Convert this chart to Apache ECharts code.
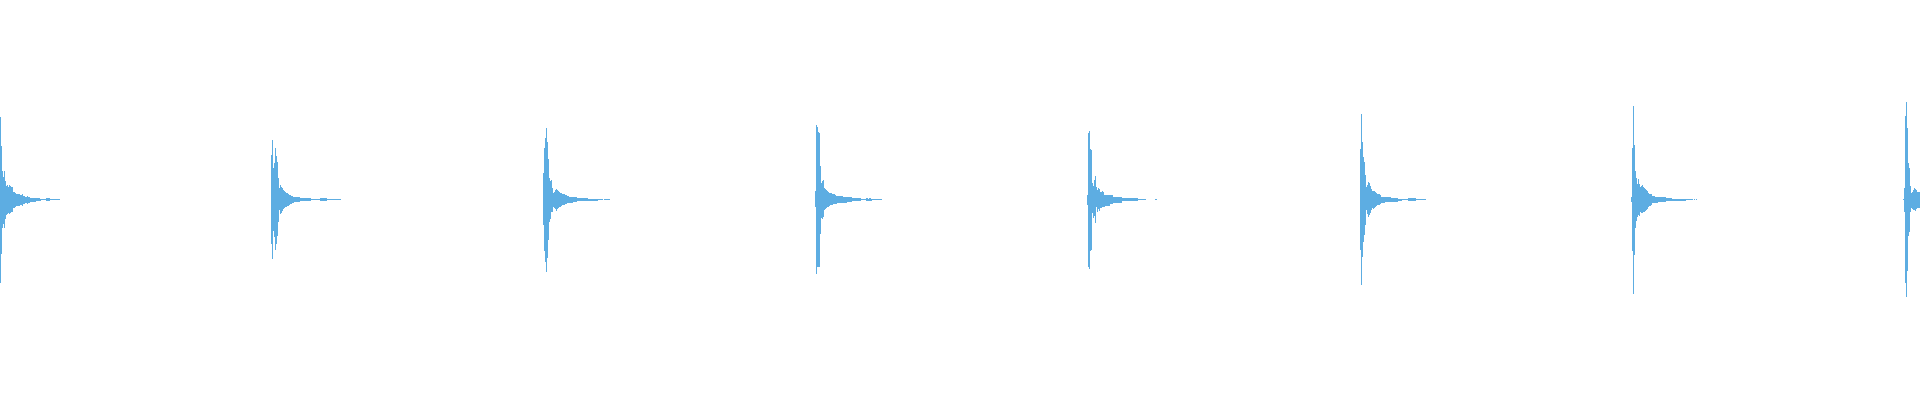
<!DOCTYPE html>
<html>
<head>
<meta charset="utf-8">
<title>waveform</title>
<script src="https://cdn.jsdelivr.net/npm/echarts@6/dist/echarts.min.js"></script>
<style>
  html, body { margin: 0; padding: 0; background: #ffffff; }
  #chart { width: 1920px; height: 400px; }
</style>
</head>
<body>
<div id="chart"></div>
<script>
// onset of each hit, in frames
const hitOnsets = [0, 271, 543, 815, 1087, 1360, 1631, 1903];

// per-frame peak (max) and trough (min) of the signal, % of full scale
const hit1Hi = [41.5,27,14.5,11.5,14.5,9.5,7,7.5,6.5,7.5, 7,6.5,6.5,4,4,3.5,3,3,3,3, 2.5,2.5,3,2,2,1.5,1.5,2,1.5,1.5, 1,1,1,1,1,1,1,1,1,1, 0.5,0.5,0.5,0.5,0.5,0.5,1,1,1,1, 0.5,0.5,0.5,0.5,0.5,0.5,0.5,0.5,0.5,0.5];
const hit1Lo = [-41.5,-27,-14,-12,-14,-9.5,-7.5,-7,-6.5,-7, -6.5,-6,-6,-4,-4,-3.5,-3,-3,-3,-3, -2.5,-2.5,-3,-2,-2,-1.5,-1.5,-2,-1.5,-1.5, -1,-1,-1,-1,-1,-1,-0.5,-0.5,-0.5,-0.5, -0.5,0,0,0,0,0,-0.5,-0.5,-0.5,-0.5, 0,0,0,0,0,0,0,0,0,0];

const hit2Hi = [22.5,30,16,18.5,26,22,19,11,6,7.5, 6.5,6,5,4.5,4,3.5,3.5,3,2.5,2.5, 2,2,1.5,1.5,1.5,1.5,1.5,1.5,1.5,1, 1,1,1,1,1,1,1,1,1,1, 0.5,0.5,0.5,0.5,0.5,0.5,0.5,0.5,0.5,1, 1,1,1,1,1,1,0.5,0.5,0.5,0.5, 0.5,0.5,0.5,0.5,0.5,0.5,0.5,0.5,0.5,0.5];
const hit2Lo = [-22,-29.5,-15.5,-18.5,-25,-22,-18,-11,-5,-7, -6.5,-5.5,-4.5,-4,-3.5,-3.5,-3,-3,-2.5,-2, -2,-1.5,-1.5,-1,-1,-1,-1,-1,-1,-0.5, -0.5,-0.5,-0.5,-0.5,-0.5,-0.5,-0.5,-0.5,-0.5,-0.5, 0,0,0,0,0,0,0,0,0,-0.5, -0.5,-0.5,-0.5,-0.5,-0.5,-0.5,0,0,0,0, 0,0,0,0,0,0,0,0,0,0];

const hit3Hi = [13.5,26,31,36,29,20.5,11,9.5,10,6, 3.5,4,5,5.5,5,4.5,4,3.5,3.5,3, 3,3,2.5,2.5,2,2,1.5,1.5,1.5,1.5, 1.5,1.5,1.5,1.5,1,1,1,1,1,1, 1,1,1,1,1,0.5,0.5,0.5,0.5,0.5, 0.5,0.5,0.5,0.5,0.5,0.5,0.5,0.5,0.5,0.5, 0,0.5,0.5,0.5,0.5,0.5,0.5];
const hit3Lo = [-12.5,-25.5,-31,-36,-29,-20,-11,-9.5,-6,-6, -3.5,-4,-4.5,-5.5,-4.5,-4,-3.5,-3.5,-3,-2.5, -2.5,-2.5,-2,-2,-1.5,-1.5,-1.5,-1.5,-1.5,-1.5, -1,-1,-1,-1,-0.5,-0.5,-0.5,-0.5,-0.5,-0.5, -0.5,-0.5,-0.5,-0.5,-0.5,-0.5,-0.5,-0.5,-0.5,-0.5, -0.5,-0.5,-0.5,-0.5,-0.5,0,0,0,0,0, 0,0,0,0,0,0,0];

const hit4Hi = [4.5,37.5,36.5,34,33.5,17,8.5,9.5,10,6, 5.5,5,4.5,4,3.5,3.5,3.5,3,3,3, 2.5,2,2,2,2,2,2,2,1.5,1.5, 1.5,1.5,1.5,1.5,1.5,1.5,1.5,1,1,1, 1,1,1,1,1,1,0.5,0.5,0.5,0.5, 0.5,1,1,0.5,1,1,0.5,0.5,0.5,0.5, 0.5,0.5,0.5,0.5,0.5,0.5,0.5];
const hit4Lo = [-3.5,-37,-33.5,-33.5,-33.5,-17,-9,-9.5,-8.5,-5, -4.5,-4,-3.5,-3.5,-3,-2.5,-2.5,-2.5,-2,-2, -2,-2,-1.5,-1.5,-1.5,-1.5,-1.5,-1.5,-1.5,-1.5, -1.5,-1.5,-1,-1,-1,-1,-1,-0.5,-0.5,-0.5, -0.5,-0.5,-0.5,-0.5,-0.5,-0.5,0,0,0,0, 0,-0.5,-0.5,-0.5,-0.5,-0.5,-0.5,0,0,0, 0,0,0,0,0,0,0];

const hit5Hi = [2.5,33.5,34.5,25.5,25,8.5,7,10,12,6.5, 5,6,5.5,4,4,4.5,4,2.5,2.5,2.5, 2.5,2.5,2.5,2.5,2.5,2.5,1.5,1.5,1.5,1.5, 1.5,1.5,1.5,1.5,1.5,1,1,1,1,1, 1,1,1,1,1,1,1,1,1,1, 1,0.5,0.5,0.5,0.5,0.5,0.5,0.5,0.5,0, 0,0,0,0,0,0,0,0,0.5,0.5];
const hit5Lo = [-2.5,-33.5,-34.5,-25.5,-25,-6.5,-9,-8,-11.5,-3.5, -6,-4.5,-5.5,-4,-4,-3.5,-3.5,-3.5,-3,-3, -3,-3,-3,-2,-2,-2,-1.5,-1.5,-1.5,-1.5, -1.5,-1.5,-1.5,-1.5,-1.5,-0.5,-0.5,-0.5,-0.5,-0.5, -0.5,-0.5,-0.5,-0.5,-0.5,-0.5,-0.5,-0.5,-0.5,-0.5, -0.5,0,0,0,0,0,0,0,0,0, 0,0,0,0,0,0,0,0,0,0];

const hit6Hi = [25.5,43,29,21.5,19,12.5,6.5,7.5,9,8.5, 7,5.5,4.5,4.5,4.5,4,3.5,3,3,3, 2.5,1.5,1.5,1.5,1.5,1.5,1.5,1.5,1.5,1.5, 1.5,1,1,1,1,1,1,1,0.5,0.5, 0.5,0.5,0.5,0.5,0.5,0.5,0.5,0.5,1,1, 1,1,1,1,1,1,0.5,0.5,0.5,0.5, 0.5,0.5,0.5,0.5,0.5,0.5];
const hit6Lo = [-25,-42.5,-28.5,-21,-17.5,-12.5,-5,-7,-8.5,-7.5, -6.5,-5,-4,-4.5,-4,-3.5,-3,-2.5,-2.5,-2.5, -2,-1.5,-1.5,-1.5,-1.5,-1,-1,-1,-1,-1, -1,-1,-1,-1,-1,-1,-1,-1,-0.5,-0.5, -0.5,-0.5,0,0,0,0,0,0,-0.5,-0.5, -0.5,-0.5,-0.5,-0.5,-0.5,-0.5,0,0,0,0, 0,0,0,0,0,0];

const hit7Hi = [1.5,26,47,27.5,14.5,11,8,10.5,8,6.5, 7,7.5,6.5,6,5.5,5,4.5,3.5,3,3, 3,2,2,2,1.5,1.5,1.5,1.5,1.5,1.5, 1.5,1.5,1.5,1.5,1.5,1,1,1,1,1, 1,0.5,0.5,0.5,0.5,0.5,0.5,0.5,0.5,0.5, 0.5,0.5,0.5,0.5,0.5,0.5,0.5,0.5,0.5,0.5, 0.5,0.5,0,0.5,0,0.5,0];
const hit7Lo = [-1,-25.5,-47,-27.5,-14,-10.5,-8.5,-7.5,-8,-6, -6.5,-6.5,-6,-6,-5.5,-5,-4.5,-3.5,-3,-3, -2.5,-1.5,-1.5,-1.5,-1.5,-1.5,-1.5,-1,-1,-1, -1,-1,-1,-1,-1,-0.5,-0.5,-0.5,-0.5,-0.5, -0.5,-0.5,-0.5,-0.5,-0.5,-0.5,-0.5,-0.5,-0.5,-0.5, -0.5,-0.5,-0.5,-0.5,-0.5,0,0,0,0,0, 0,0,0,0,0,0,0];

const hit8Hi = [0.5,6,42,49,36,18.5,16,7,3.5,4,5,6,5.5,5,4,4,4];
const hit8Lo = [0,-6,-41.5,-48.5,-35.5,-18,-16,-6,-4,-4.5,-5,-5,-5.5,-4.5,-4,-4,-4];

const hitPeaks = [hit1Hi, hit2Hi, hit3Hi, hit4Hi, hit5Hi, hit6Hi, hit7Hi, hit8Hi];
const hitTroughs = [hit1Lo, hit2Lo, hit3Lo, hit4Lo, hit5Lo, hit6Lo, hit7Lo, hit8Lo];

const peakData = [];
const troughData = [];
hitOnsets.forEach((onset, h) => {
  hitPeaks[h].forEach((v, i) => peakData.push([onset + i, v]));
  hitTroughs[h].forEach((v, i) => troughData.push([onset + i, v]));
});

const myChart = echarts.init(document.getElementById('chart'));

const option = {
  animation: false,
  grid: { left: 0, right: 0, top: 0, bottom: 0 },
  xAxis: {
    type: 'value',
    min: -0.5,
    max: 1919.5,
    show: false
  },
  yAxis: {
    type: 'value',
    min: -100,
    max: 100,
    show: false
  },
  series: [
    {
      name: 'peak',
      type: 'bar',
      data: peakData,
      barWidth: 1,
      barGap: '-100%',
      silent: true,
      itemStyle: { color: '#5dade2' }
    },
    {
      name: 'trough',
      type: 'bar',
      data: troughData,
      barWidth: 1,
      barGap: '-100%',
      silent: true,
      itemStyle: { color: '#5dade2' }
    }
  ]
};

myChart.setOption(option);
</script>
</body>
</html>
